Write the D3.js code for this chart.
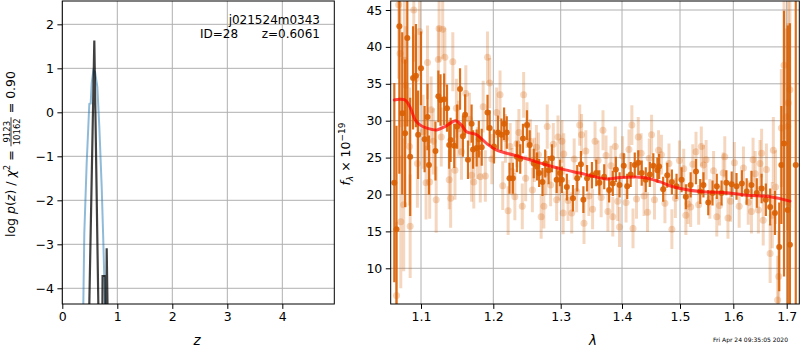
<!DOCTYPE html>
<html>
<head>
<meta charset="utf-8">
<script src="https://cdn.jsdelivr.net/npm/d3@7"></script>
<style>
  body { margin: 0; background: #fff; }
  text { font-family: "DejaVu Sans", sans-serif; fill: #000; white-space: pre; }
</style>
</head>
<body>
<svg id="chart"></svg>
<script>
// ---- left panel: log p(z) ----
const zTicks = [0, 1, 2, 3, 4];
const pTicks = [-4, -3, -2, -1, 0, 1, 2];
// smoothed p(z) curve (blue)
const zBlue = [0.36, 0.382, 0.40, 0.443, 0.473, 0.491, 0.516, 0.534, 0.564, 0.595, 0.637, 0.673, 0.716, 0.745, 0.776, 0.79];
const pBlue = [-5.2, -4.36, -2.76, -1.16, -0.33, 0.19, 0.2, 0.66, 0.95, 0.92, 0.58, -0.33, -1.69, -2.9, -4.36, -5.0];
// fitted log p(z) (black)
const zBlack = [0.46, 0.582, 0.68, 0.722, 0.732, 0.782, 0.790, 0.798, 0.807, 0.845];
const pBlack = [-6.4, 1.63, -6.4, -6.4, -3.72, -3.72, -6.4, -6.4, -3.09, -6.4];

// ---- right panel: spectrum ----
const lamTicks = [1.1, 1.2, 1.3, 1.4, 1.5, 1.6, 1.7];
const fluxTicks = [10, 15, 20, 25, 30, 35, 40, 45];

// unbinned (light) points
const lamLight = [1.066, 1.069, 1.071, 1.072, 1.076, 1.077, 1.079, 1.084, 1.085, 1.090, 1.093, 1.095, 1.098,
  1.103, 1.107, 1.109, 1.112, 1.114, 1.117, 1.121, 1.124, 1.125, 1.128, 1.130, 1.133, 1.139, 1.141, 1.144,
  1.147, 1.149, 1.152, 1.156, 1.162, 1.167, 1.170, 1.173, 1.178, 1.182, 1.186, 1.189, 1.192, 1.195, 1.198,
  1.205, 1.210, 1.214, 1.218, 1.222, 1.225, 1.228, 1.232, 1.235, 1.238, 1.243, 1.245, 1.248, 1.250, 1.255,
  1.258, 1.261, 1.264, 1.267, 1.271, 1.275, 1.278, 1.280, 1.285, 1.289, 1.294, 1.296, 1.298, 1.302, 1.304,
  1.305, 1.312, 1.318, 1.322, 1.326, 1.331, 1.334, 1.338, 1.341, 1.346, 1.352, 1.356, 1.361, 1.366, 1.369,
  1.374, 1.377, 1.382, 1.385, 1.389, 1.393, 1.396, 1.401, 1.407, 1.412, 1.417, 1.419, 1.425, 1.428, 1.433,
  1.438, 1.444, 1.447, 1.451, 1.456, 1.463, 1.468, 1.474, 1.481, 1.486, 1.492, 1.499, 1.507, 1.511, 1.515,
  1.520, 1.524, 1.530, 1.535, 1.540, 1.544, 1.549, 1.556, 1.563, 1.569, 1.574, 1.581, 1.584, 1.590, 1.595,
  1.602, 1.611, 1.619, 1.628, 1.634, 1.637, 1.641, 1.647, 1.650, 1.653, 1.656, 1.662, 1.669, 1.673, 1.675,
  1.679, 1.683, 1.685, 1.690, 1.695, 1.699, 1.702, 1.703, 1.706];
const fluxLight = [6.3, 45.7, 39.1, 16.3, 18.6, 38.2, 34.8, 26.5, 15.7, 45.0, 35.7, 24.2, 42.1,
  28.5, 21.6, 37.9, 21.7, 31.5, 27.2, 19.3, 38.3, 42.5, 27.8, 42.4, 38.6, 22.0, 19.5, 38.0,
  23.3, 31.7, 28.9, 25.8, 33.7, 30.2, 22.6, 21.7, 25.6, 22.4, 31.9, 22.5, 38.6, 35.1, 24.8,
  31.1, 33.5, 21.2, 27.6, 17.8, 26.5, 23.1, 19.7, 26.9, 28.4, 18.4, 33.5, 22.2, 29.4, 27.2,
  20.6, 24.7, 26.4, 25.4, 17.0, 18.4, 22.9, 29.2, 21.3, 26.8, 19.3, 27.8, 22.1, 27.2, 17.5,
  25.5, 19.2, 17.5, 24.8, 20.4, 29.4, 28.1, 16.1, 25.9, 19.8, 18.0, 27.2, 24.6, 19.6, 28.7,
  25.3, 17.7, 23.9, 17.0, 26.5, 19.1, 15.6, 25.2, 18.9, 26.1, 29.4, 15.4, 19.4, 27.8, 25.6,
  19.8, 17.6, 24.9, 28.1, 19.3, 26.0, 25.4, 18.8, 24.2, 15.3, 19.5, 24.6, 23.5, 17.2, 18.7,
  18.3, 24.1, 25.8, 18.6, 26.5, 24.0, 24.7, 19.4, 23.2, 17.0, 18.5, 22.9, 25.1, 16.8, 19.1,
  24.3, 18.4, 23.6, 18.9, 17.7, 24.7, 22.8, 17.9, 24.2, 25.6, 16.5, 23.4, 12.0, 17.2, 26.0,
  21.0, 5.7, 8.9, 29.0, 37.5, 30.5, 29.2, 32.4, 34.2];
const errLight = [10, 10, 10, 9, 9, 9, 8, 8, 7, 7, 6, 6, 6,
  5, 5, 5, 5, 4.5, 4.5, 4.5, 4.5, 4.5, 4, 4, 4, 4, 4, 4,
  4, 4, 3.8, 3.8, 3.8, 3.6, 3.6, 3.6, 3.5, 3.5, 3.5, 3.5, 3.5, 3.4, 3.4,
  3.4, 3.3, 3.3, 3.3, 3.3, 3.2, 3.2, 3.2, 3.2, 3.2, 3.1, 3.1, 3.1, 3.1, 3.0,
  3.0, 3.0, 3.0, 3.0, 3.0, 3.0, 3.0, 3.0, 2.9, 2.9, 2.9, 2.9, 2.9, 2.9, 2.9,
  2.8, 2.8, 2.8, 2.8, 2.8, 2.8, 2.8, 2.8, 2.8, 2.7, 2.7, 2.7, 2.7, 2.7, 2.7,
  2.7, 2.7, 2.7, 2.7, 2.7, 2.7, 2.7, 2.7, 2.7, 2.7, 2.7, 2.7, 2.7, 2.7, 2.7,
  2.7, 2.7, 2.7, 2.7, 2.7, 2.7, 2.7, 2.7, 2.7, 2.7, 2.7, 2.7, 2.7, 2.7, 2.7,
  2.7, 2.7, 2.7, 2.7, 2.7, 2.7, 2.7, 2.7, 2.7, 2.7, 2.7, 2.8, 2.8, 2.8, 2.8,
  2.8, 2.9, 2.9, 3.0, 3.0, 3.0, 3.1, 3.2, 3.2, 3.3, 3.4, 3.5, 4, 4.5, 4.5,
  5, 6, 6, 8, 10, 12, 14, 14, 16];

// binned (dark) points
const lamDark = [1.063, 1.066, 1.070, 1.074, 1.078, 1.081, 1.085, 1.089, 1.093, 1.096, 1.100, 1.105, 1.109,
  1.111, 1.120, 1.124, 1.127, 1.132, 1.136, 1.139, 1.141, 1.146, 1.150, 1.154, 1.158, 1.161, 1.165, 1.170,
  1.172, 1.177, 1.180, 1.184, 1.192, 1.195, 1.201, 1.207, 1.212, 1.216, 1.220, 1.224, 1.229, 1.235, 1.240,
  1.244, 1.250, 1.254, 1.260, 1.265, 1.268, 1.273, 1.277, 1.282, 1.287, 1.294, 1.299, 1.302, 1.310, 1.320,
  1.327, 1.333, 1.337, 1.343, 1.351, 1.358, 1.363, 1.371, 1.379, 1.385, 1.390, 1.396, 1.403, 1.409, 1.415,
  1.422, 1.428, 1.434, 1.441, 1.448, 1.454, 1.461, 1.464, 1.471, 1.478, 1.486, 1.494, 1.503, 1.511, 1.520,
  1.530, 1.538, 1.544, 1.553, 1.561, 1.569, 1.578, 1.587, 1.597, 1.606, 1.616, 1.625, 1.634, 1.644, 1.653,
  1.661, 1.669, 1.678, 1.686, 1.690, 1.695, 1.702, 1.706, 1.717];
const fluxDark = [21.6, 15.3, 42.8, 31.0, 28.3, 41.2, 25.1, 35.8, 36.1, 28.1, 37.1, 27.5, 30.5,
  24.0, 25.9, 33.3, 32.8, 32.9, 31.7, 26.7, 27.4, 26.6, 29.2, 34.3, 27.9, 30.8, 24.7, 29.6,
  26.1, 26.3, 27.5, 26.4, 31.1, 29.0, 26.5, 28.4, 28.1, 29.6, 28.4, 22.2, 22.2, 25.1, 24.8,
  27.6, 29.4, 26.7, 24.2, 23.8, 22.9, 21.7, 24.2, 23.3, 24.9, 22.0, 22.9, 22.0, 21.0, 19.5,
  22.2, 24.1, 19.3, 22.2, 22.6, 22.9, 21.6, 22.4, 20.6, 21.5, 23.4, 21.3, 23.9, 21.1, 22.7,
  24.0, 24.3, 22.9, 22.0, 22.7, 23.9, 23.3, 23.8, 20.7, 22.6, 21.7, 21.1, 22.0, 19.7, 21.3,
  23.1, 20.4, 21.3, 18.9, 20.2, 21.1, 20.2, 21.6, 21.4, 21.1, 21.5, 20.4, 21.3, 20.2, 20.8,
  19.3, 18.3, 17.5, 12.9, 24.0, 26.9, 17.9, 13.2, 24.0];
const errDark = [13.5, 14, 20, 11, 10, 12, 8, 7, 7, 6, 5, 4.5, 4.5,
  4, 4, 3.5, 3.5, 3.5, 3.2, 3.2, 3, 3, 3, 2.8, 2.8, 2.8, 2.6, 2.6,
  2.6, 2.5, 2.5, 2.5, 2.4, 2.4, 2.3, 2.3, 2.2, 2.2, 2.2, 2.1, 2.1, 2.1, 2,
  2, 2, 2, 2, 1.9, 1.9, 1.9, 1.9, 1.9, 1.9, 1.8, 1.8, 1.8, 1.8, 1.8,
  1.8, 1.8, 1.8, 1.8, 1.8, 1.8, 1.7, 1.7, 1.7, 1.7, 1.7, 1.7, 1.7, 1.7, 1.7,
  1.7, 1.7, 1.7, 1.7, 1.7, 1.7, 1.7, 1.7, 1.7, 1.7, 1.7, 1.7, 1.7, 1.7, 1.7,
  1.7, 1.7, 1.7, 1.7, 1.7, 1.7, 1.7, 1.7, 1.7, 1.8, 1.8, 1.8, 1.9, 2, 2,
  2.2, 2.5, 3, 6, 8, 18, 25, 30, 30];

// best-fit model (red)
const lamModel = [1.063, 1.070, 1.078, 1.085, 1.092, 1.099, 1.108, 1.122, 1.133, 1.143, 1.148, 1.156, 1.163,
  1.177, 1.191, 1.205, 1.230, 1.254, 1.279, 1.304, 1.331, 1.375, 1.397, 1.437, 1.466, 1.488, 1.538, 1.588,
  1.625, 1.669, 1.706];
const fluxModel = [32.8, 32.9, 32.8, 31.8, 30.1, 29.4, 29.0, 28.75, 29.2, 29.8, 30.0, 29.4, 28.5,
  28.1, 26.9, 26.0, 25.35, 24.7, 24.0, 23.4, 22.9, 22.1, 22.3, 22.3, 21.7, 21.05, 20.4, 20.25,
  19.9, 19.7, 19.1];

const ORANGE = "#d95f02";
const GRID = "#b0b0b0";

const svg = d3.select("#chart").attr("width", 800).attr("height", 350);

// panel boxes
const L = {x0: 62.3, x1: 334.3, y0: 1, y1: 304};
const R = {x0: 390.7, x1: 799.3, y0: 1, y1: 304};

const zx = d3.scaleLinear().domain([0, 4.945]).range([L.x0, L.x1]);
const py = d3.scaleLinear().domain([-4.357, 2.53]).range([L.y1, L.y0]);

// wavelength axis is not linear in the original; map tick to tick
const lx = d3.scaleLinear()
  .domain([1.058, 1.1, 1.2, 1.3, 1.4, 1.5, 1.6, 1.7, 1.7236])
  .range([R.x0, 421, 493.3, 560.7, 622, 680, 733.3, 786.7, R.x1]);
const fy = d3.scaleLinear().domain([5.16, 46.22]).range([R.y1, R.y0]);

const defs = svg.append("defs");
defs.append("clipPath").attr("id", "clipL").append("rect")
  .attr("x", L.x0).attr("y", L.y0).attr("width", L.x1 - L.x0).attr("height", L.y1 - L.y0);
defs.append("clipPath").attr("id", "clipR").append("rect")
  .attr("x", R.x0).attr("y", R.y0).attr("width", R.x1 - R.x0).attr("height", R.y1 - R.y0);

function grid(g, xs, ys, xsc, ysc, box) {
  g.selectAll(".gx").data(xs).enter().append("line")
    .attr("x1", d => xsc(d)).attr("x2", d => xsc(d))
    .attr("y1", box.y0).attr("y2", box.y1)
    .attr("stroke", GRID).attr("stroke-width", 1);
  g.selectAll(".gy").data(ys).enter().append("line")
    .attr("y1", d => ysc(d)).attr("y2", d => ysc(d))
    .attr("x1", box.x0).attr("x2", box.x1)
    .attr("stroke", GRID).attr("stroke-width", 1);
}

function axes(xs, ys, xsc, ysc, box) {
  const ax = svg.append("g").attr("transform", `translate(0,${box.y1})`)
    .call(d3.axisBottom(xsc).tickValues(xs).tickSize(4.9).tickPadding(3.5).tickFormat(d3.format("")));
  const ay = svg.append("g").attr("transform", `translate(${box.x0},0)`)
    .call(d3.axisLeft(ysc).tickValues(ys).tickSize(4.9).tickPadding(3.5).tickFormat(d3.format("")));
  [ax, ay].forEach(a => {
    a.select(".domain").remove();
    a.selectAll("text").attr("font-size", 12.5).attr("font-family", "DejaVu Sans");
    a.selectAll("line").attr("stroke", "#000").attr("stroke-width", 1);
  });
  svg.append("rect").attr("x", box.x0).attr("y", box.y0)
    .attr("width", box.x1 - box.x0).attr("height", box.y1 - box.y0)
    .attr("fill", "none").attr("stroke", "#000").attr("stroke-width", 1);
}

// ---------- left panel ----------
const gl = svg.append("g");
grid(gl, zTicks, pTicks, zx, py, L);
const pz = gl.append("g").attr("clip-path", "url(#clipL)");
const line = (xsc, ysc) => d3.line().x(d => xsc(d[0])).y(d => ysc(d[1]));
pz.append("path").datum(d3.zip(zBlue, pBlue))
  .attr("d", line(zx, py)).attr("fill", "none")
  .attr("stroke", "#1f77b4").attr("stroke-opacity", 0.5).attr("stroke-width", 2);
pz.append("path").datum(d3.zip(zBlack, pBlack))
  .attr("d", line(zx, py)).attr("fill", "none")
  .attr("stroke", "#000").attr("stroke-opacity", 0.75).attr("stroke-width", 2.2)
  .attr("stroke-linejoin", "miter");
axes(zTicks, pTicks, zx, py, L);

gl.append("text").attr("x", 320).attr("y", 24).attr("text-anchor", "end")
  .attr("font-size", 12).text("j021524m0343");
gl.append("text").attr("x", 200).attr("y", 38).attr("font-size", 12).text("ID=28");
gl.append("text").attr("x", 320).attr("y", 38).attr("text-anchor", "end")
  .attr("font-size", 12).text("z=0.6061");

svg.append("text").attr("x", 197).attr("y", 345).attr("text-anchor", "middle")
  .attr("font-size", 13.5).attr("font-style", "italic").text("z");

// y label with fraction
const lab = svg.append("g").attr("transform", "translate(14.5,154) rotate(-90)");
const t1 = lab.append("text").attr("font-size", 12.5);
t1.append("tspan").text("log ");
t1.append("tspan").attr("font-style", "italic").text("p");
t1.append("tspan").text("(");
t1.append("tspan").attr("font-style", "italic").text("z");
t1.append("tspan").text(") / ");
t1.append("tspan").attr("font-style", "italic").text("χ");
t1.append("tspan").attr("font-size", 8.5).attr("dy", -5).text("2");
t1.append("tspan").attr("dy", 5).text(" = ");
const fr = lab.append("g");
const num = fr.append("text").attr("font-size", 8.5).attr("text-anchor", "middle").attr("y", -5).text("9123");
const den = fr.append("text").attr("font-size", 8.5).attr("text-anchor", "middle").attr("y", 5.5).text("10162");
const t3 = lab.append("text").attr("font-size", 12.5).text(" = 0.90");
const w1 = t1.node().getComputedTextLength();
const wf = Math.max(num.node().getComputedTextLength(), den.node().getComputedTextLength()) + 2;
const w3 = t3.node().getComputedTextLength();
const start = -(w1 + wf + w3) / 2;
t1.attr("x", start);
fr.attr("transform", `translate(${start + w1 + wf / 2},0)`);
fr.append("line").attr("x1", -wf / 2).attr("x2", wf / 2).attr("y1", -3.5).attr("y2", -3.5)
  .attr("stroke", "#000").attr("stroke-width", 0.8);
t3.attr("x", start + w1 + wf);

// ---------- right panel ----------
const gr = svg.append("g");
grid(gr, lamTicks, fluxTicks, lx, fy, R);
const sp = gr.append("g").attr("clip-path", "url(#clipR)");

const light = d3.range(lamLight.length).map(i => ({l: lamLight[i], f: fluxLight[i], e: errLight[i]}));
const dark = d3.range(lamDark.length).map(i => ({l: lamDark[i], f: fluxDark[i], e: errDark[i]}));

sp.selectAll(".eL").data(light).enter().append("line")
  .attr("x1", d => lx(d.l)).attr("x2", d => lx(d.l))
  .attr("y1", d => fy(d.f - d.e)).attr("y2", d => fy(d.f + d.e))
  .attr("stroke", ORANGE).attr("stroke-opacity", 0.25).attr("stroke-width", 3);
sp.selectAll(".mL").data(light).enter().append("circle")
  .attr("cx", d => lx(d.l)).attr("cy", d => fy(d.f)).attr("r", 3.5)
  .attr("fill", ORANGE).attr("fill-opacity", 0.25);

sp.selectAll(".eD").data(dark).enter().append("line")
  .attr("x1", d => lx(d.l)).attr("x2", d => lx(d.l))
  .attr("y1", d => fy(d.f - d.e)).attr("y2", d => fy(d.f + d.e))
  .attr("stroke", ORANGE).attr("stroke-opacity", 0.9).attr("stroke-width", 2.2);
sp.selectAll(".mD").data(dark).enter().append("circle")
  .attr("cx", d => lx(d.l)).attr("cy", d => fy(d.f)).attr("r", 3)
  .attr("fill", ORANGE).attr("fill-opacity", 0.9);

// smooth model curve
sp.append("path").datum(d3.zip(lamModel, fluxModel))
  .attr("d", line(lx, fy).curve(d3.curveCatmullRom.alpha(0.5))).attr("fill", "none")
  .attr("stroke", "#ff0000").attr("stroke-opacity", 0.7).attr("stroke-width", 3)
  .attr("stroke-linejoin", "round").attr("stroke-linecap", "round");

axes(lamTicks, fluxTicks, lx, fy, R);

svg.append("text").attr("x", 593).attr("y", 345).attr("text-anchor", "middle")
  .attr("font-size", 13.5).attr("font-style", "italic").text("λ");

const yl = svg.append("text").attr("transform", "translate(350,154) rotate(-90)")
  .attr("text-anchor", "middle").attr("font-size", 12.5);
yl.append("tspan").attr("font-style", "italic").text("f");
yl.append("tspan").attr("font-style", "italic").attr("font-size", 9).attr("dy", 3).text("λ");
yl.append("tspan").attr("dy", -3).text(" × 10");
yl.append("tspan").attr("font-size", 9).attr("dy", -5).text("−19");

svg.append("text").attr("x", 788).attr("y", 342).attr("text-anchor", "end")
  .attr("font-size", 6).text("Fri Apr 24 09:35:05 2020");
</script>
</body>
</html>
